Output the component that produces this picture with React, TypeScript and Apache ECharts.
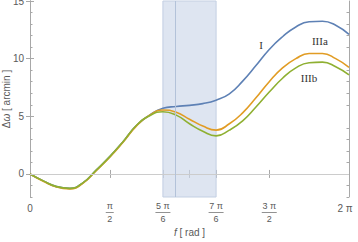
import React, { useEffect, useRef } from "react";
import * as echarts from "echarts";

const PI = Math.PI;
// sample positions in units of π
const xPi = [0, 1/12, 2/12, 3/12, 4/12, 5/12, 6/12, 7/12, 8/12, 9/12, 10/12, 11/12, 1, 13/12, 14/12, 15/12, 16/12, 17/12, 18/12, 19/12, 20/12, 21/12, 22/12, 23/12, 2];
const seriesI = [0, -0.6, -1.1, -1.25, -0.75, 0.35, 1.5, 2.8, 4.2, 5.1, 5.7, 5.85, 5.95, 6.1, 6.4, 6.95, 8.05, 9.4, 10.8, 11.9, 12.75, 13.2, 13.25, 12.9, 12.1];
const seriesIIIa = [0, -0.63, -1.14, -1.3, -0.8, 0.3, 1.45, 2.75, 4.15, 5.1, 5.55, 5.35, 4.75, 4.15, 3.8, 4.35, 5.3, 6.6, 8.0, 9.2, 10.0, 10.45, 10.45, 10.0, 9.25];
const seriesIIIb = [0, -0.6, -1.1, -1.25, -0.75, 0.35, 1.5, 2.8, 4.2, 5.05, 5.4, 5.1, 4.35, 3.7, 3.3, 3.8, 4.6, 5.8, 7.1, 8.3, 9.2, 9.65, 9.7, 9.3, 8.6];

const xTicks = [0, PI / 2, (5 * PI) / 6, PI, (7 * PI) / 6, (3 * PI) / 2, 2 * PI];
const xLabelValues = [0, PI / 2, (5 * PI) / 6, (7 * PI) / 6, (3 * PI) / 2, 2 * PI];
const xLabelTexts = ["{w|0}", "{n|π}\n{bs|}\n{d|2}", "{n|5 π}\n{bl|}\n{d|6}", "{n|7 π}\n{bl|}\n{d|6}", "{n|3 π}\n{bl|}\n{d|2}", "{w2|2 π}"];
const yMajor = [0, 5, 10, 15];
const yMinor = [-2, -1, 1, 2, 3, 4, 6, 7, 8, 9, 11, 12, 13, 14];
const bandRange = [(5 * PI) / 6, (7 * PI) / 6];
const markerX = 2.856;
const curveLabels = [
  { name: "I", x: 4.55, y: 11.2 },
  { name: "IIIa", x: 5.71, y: 11.55 },
  { name: "IIIb", x: 5.495, y: 8.3 },
];

const FRAME = "#a8a8a8";
const TXT = "#5a5a5a";

export default function App() {
  const ref = useRef<HTMLDivElement>(null);
  useEffect(() => {
    const chart = echarts.init(ref.current!, null, { renderer: "svg" });
    const pairs = (vals: number[]) => vals.map((v, i) => [xPi[i] * PI, v]);
    const labelFmt = (v: number) => {
      const i = xLabelValues.findIndex((c) => Math.abs(c - v) < 1e-6);
      return i >= 0 ? xLabelTexts[i] : "";
    };
    const rich = {
      w: { fontSize: 10, color: TXT, padding: [2, 0, 0, 0], fontFamily: "Liberation Sans" },
      w2: { fontSize: 10, color: TXT, padding: [2, 8, 0, 0], fontFamily: "Liberation Sans" },
      n: { fontSize: 9, color: TXT, lineHeight: 10, fontFamily: "Liberation Sans" },
      d: { fontSize: 9, color: TXT, lineHeight: 10, fontFamily: "Liberation Sans" },
      bs: { width: 8, height: 0.8, lineHeight: 3, backgroundColor: "#777" },
      bl: { width: 15, height: 0.8, lineHeight: 3, backgroundColor: "#777" },
    };
    const baseY = {
      type: "value" as const,
      min: -2,
      max: 15,
      axisLine: { show: true, lineStyle: { color: FRAME, width: 1 } },
      splitLine: { show: false },
    };
    const baseX = {
      type: "value" as const,
      min: 0,
      max: 2 * PI,
      axisLine: { show: true, lineStyle: { color: FRAME, width: 1 } },
      splitLine: { show: false },
    };
    const lineSeries = (name: string, data: number[], color: string, extra: any = {}) => ({
      name,
      type: "line",
      data: pairs(data),
      smooth: 0.5,
      showSymbol: false,
      lineStyle: { color, width: 1.6 },
      itemStyle: { color },
      z: 3,
      ...extra,
    });
    chart.setOption({
      animation: false,
      grid: { left: 30, right: 9, top: 1, bottom: 45, containLabel: false, outerBoundsMode: "none" },
      xAxis: [
        {
          ...baseX,
          position: "bottom",
          name: "{i|f} [ rad ]",
          nameLocation: "middle",
          nameGap: 30,
          nameMoveOverlap: false,
          nameTextStyle: {
            color: TXT,
            fontSize: 10,
            fontFamily: "Liberation Sans",
            rich: { i: { fontStyle: "italic", fontSize: 10, color: TXT, fontFamily: "Liberation Sans" } },
          },
          axisTick: { show: true, inside: true, length: 4, customValues: xTicks, lineStyle: { color: FRAME } },
          axisLabel: { show: true, customValues: xLabelValues, formatter: labelFmt, rich, margin: 4, color: TXT },
        },
        {
          ...baseX,
          position: "top",
          axisTick: { show: true, inside: true, length: 4, customValues: xTicks, lineStyle: { color: FRAME } },
          axisLabel: { show: false },
        },
      ],
      yAxis: [
        {
          ...baseY,
          position: "left",
          offset: 0,
          name: "Δ{i|ω} [ arcmin ]",
          nameLocation: "middle",
          nameGap: 19,
          nameMoveOverlap: false,
          nameRotate: 90,
          nameTextStyle: {
            color: TXT,
            fontSize: 10,
            fontFamily: "Liberation Sans",
            rich: { i: { fontStyle: "italic", fontSize: 10, color: TXT, fontFamily: "Liberation Sans" } },
          },
          axisTick: { show: true, inside: true, length: 4, customValues: yMajor, lineStyle: { color: FRAME } },
          axisLabel: { show: true, customValues: yMajor, margin: 6, color: TXT, fontSize: 10, fontFamily: "Liberation Sans" },
        },
        {
          ...baseY,
          position: "right",
          offset: 0,
          axisTick: { show: true, inside: true, length: 4, customValues: yMajor, lineStyle: { color: FRAME } },
          axisLabel: { show: false },
        },
        {
          ...baseY,
          position: "left",
          offset: 0,
          axisTick: { show: true, inside: true, length: 2.5, customValues: yMinor, lineStyle: { color: FRAME } },
          axisLabel: { show: false },
        },
        {
          ...baseY,
          position: "right",
          offset: 0,
          axisTick: { show: true, inside: true, length: 2.5, customValues: yMinor, lineStyle: { color: FRAME } },
          axisLabel: { show: false },
        },
      ],
      series: [
        lineSeries("I", seriesI, "#5e81b5", {
          markArea: {
            silent: true,
            itemStyle: { color: "rgba(205,215,233,0.65)", borderColor: "#c3cfe2", borderWidth: 1 },
            data: [[{ xAxis: bandRange[0] }, { xAxis: bandRange[1] }]],
          },
          markLine: {
            silent: true,
            symbol: "none",
            label: { show: false },
            data: [
              { yAxis: 0, lineStyle: { color: "#cccccc", width: 1, type: "solid" } },
              { xAxis: markerX, lineStyle: { color: "#b3c2d9", width: 1, type: "solid" } },
            ],
          },
          markPoint: {
            symbol: "circle",
            symbolSize: 0,
            label: {
              show: true,
              formatter: "{b}",
              color: "#333",
              fontSize: 11,
              fontFamily: "Liberation Serif",
              position: "inside",
            },
            data: curveLabels.map((l) => ({ name: l.name, coord: [l.x, l.y] })),
          },
        }),
        lineSeries("IIIa", seriesIIIa, "#e19c24"),
        lineSeries("IIIb", seriesIIIb, "#8fb032"),
      ],
    });
    return () => chart.dispose();
  }, []);
  return <div ref={ref} style={{ width: 358, height: 242, position: "absolute", left: 0, top: 0 }} />;
}
